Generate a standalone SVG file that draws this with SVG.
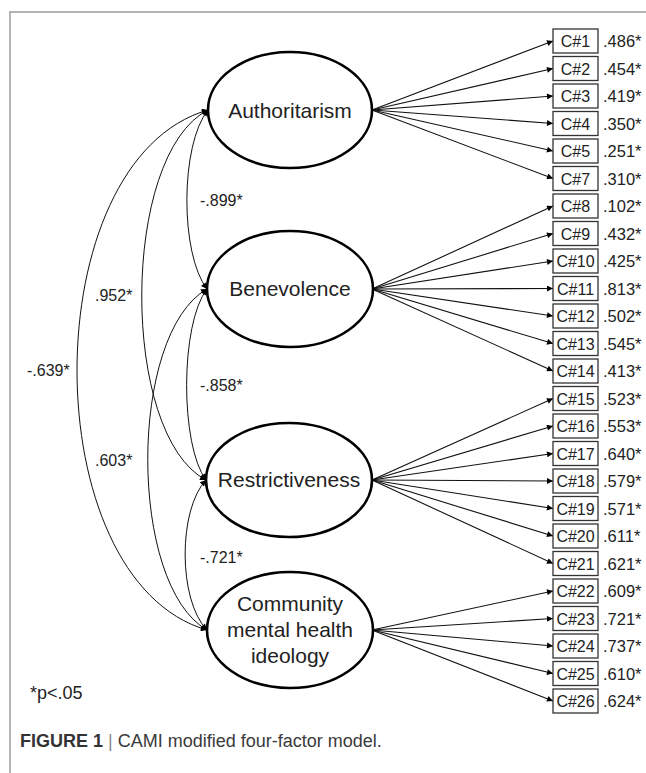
<svg xmlns="http://www.w3.org/2000/svg" width="646" height="773" viewBox="0 0 646 773">
<style>
.lat{fill:#fff;stroke:#000;stroke-width:2.6}
.lt{font-family:"Liberation Sans",Arial,sans-serif;font-size:21px;fill:#222;text-anchor:middle}
.box{fill:#fff;stroke:#333;stroke-width:1.3}
.bt{font-family:"Liberation Sans",Arial,sans-serif;font-size:16px;fill:#222;text-anchor:middle}
.vt{font-family:"Liberation Sans",Arial,sans-serif;font-size:16.5px;fill:#222}
.cv{font-family:"Liberation Sans",Arial,sans-serif;font-size:16px;fill:#222}
.ld{stroke:#111;stroke-width:1.1;fill:none;marker-end:url(#ah)}
.cov{stroke:#111;stroke-width:1;fill:none;marker-start:url(#ah);marker-end:url(#ah)}
.frame{stroke:#b4b4b4;stroke-width:2;fill:none}
</style>
<defs>
<marker id="ah" viewBox="0 0 10 10" refX="10" refY="5" markerWidth="9" markerHeight="6" markerUnits="userSpaceOnUse" orient="auto-start-reverse">
<path d="M0,0 L10,5 L0,10 z" fill="#000"/>
</marker>
</defs>
<rect width="646" height="773" fill="#fff"/>
<path class="frame" d="M646,12 H10 V773"/>

<g id="connectors">
<line class="ld" x1="372" y1="110" x2="553" y2="41"/>
<line class="ld" x1="372" y1="110" x2="553" y2="68.5"/>
<line class="ld" x1="372" y1="110" x2="553" y2="96"/>
<line class="ld" x1="372" y1="110" x2="553" y2="123.5"/>
<line class="ld" x1="372" y1="110" x2="553" y2="151"/>
<line class="ld" x1="372" y1="110" x2="553" y2="178.5"/>
<line class="ld" x1="372" y1="289" x2="553" y2="206"/>
<line class="ld" x1="372" y1="289" x2="553" y2="233.5"/>
<line class="ld" x1="372" y1="289" x2="553" y2="261"/>
<line class="ld" x1="372" y1="289" x2="553" y2="288.5"/>
<line class="ld" x1="372" y1="289" x2="553" y2="316"/>
<line class="ld" x1="372" y1="289" x2="553" y2="343.5"/>
<line class="ld" x1="372" y1="289" x2="553" y2="371"/>
<line class="ld" x1="372" y1="480" x2="553" y2="398.5"/>
<line class="ld" x1="372" y1="480" x2="553" y2="426"/>
<line class="ld" x1="372" y1="480" x2="553" y2="453.5"/>
<line class="ld" x1="372" y1="480" x2="553" y2="481"/>
<line class="ld" x1="372" y1="480" x2="553" y2="508.5"/>
<line class="ld" x1="372" y1="480" x2="553" y2="536"/>
<line class="ld" x1="372" y1="480" x2="553" y2="563.5"/>
<line class="ld" x1="372" y1="630" x2="553" y2="591"/>
<line class="ld" x1="372" y1="630" x2="553" y2="618.5"/>
<line class="ld" x1="372" y1="630" x2="553" y2="646"/>
<line class="ld" x1="372" y1="630" x2="553" y2="673.5"/>
<line class="ld" x1="372" y1="630" x2="553" y2="701"/>
<path class="cov" d="M208,110 C180,145 180,254 207,289"/>
<path class="cov" d="M207,289 C180,324 180,445 206,480"/>
<path class="cov" d="M206,480 C178,510 178,600 207,630"/>
<path class="cov" d="M208,110 C120,155 120,435 206,480"/>
<path class="cov" d="M207,289 C128,334 128,585 207,630"/>
<path class="cov" d="M208,110 C33.5,160 33.5,580 207,630"/>
<text class="cv" x="200" y="206">-.899*</text>
<text class="cv" x="200" y="391">-.858*</text>
<text class="cv" x="200" y="563">-.721*</text>
<text class="cv" x="95" y="301">.952*</text>
<text class="cv" x="95" y="466">.603*</text>
<text class="cv" x="27" y="376">-.639*</text>
</g>

<g id="authoritarism">
<ellipse class="lat" cx="290" cy="110" rx="82" ry="58"/>
<text class="lt" x="290" y="118">Authoritarism</text>
</g>
<g id="benevolence">
<ellipse class="lat" cx="290" cy="289" rx="83" ry="58"/>
<text class="lt" x="290" y="296">Benevolence</text>
</g>
<g id="restrictiveness">
<ellipse class="lat" cx="289" cy="480" rx="83" ry="57"/>
<text class="lt" x="289" y="487">Restrictiveness</text>
</g>
<g id="community">
<ellipse class="lat" cx="290" cy="630" rx="83" ry="58"/>
<text class="lt" x="290" y="611">Community</text>
<text class="lt" x="290" y="637">mental health</text>
<text class="lt" x="290" y="663">ideology</text>
</g>

<g id="c1"><rect class="box" x="553" y="29" width="45" height="24"/><text class="bt" x="575.5" y="47">C#1</text><text class="vt" x="603" y="47">.486*</text></g>
<g id="c2"><rect class="box" x="553" y="56.5" width="45" height="24"/><text class="bt" x="575.5" y="74.5">C#2</text><text class="vt" x="603" y="74.5">.454*</text></g>
<g id="c3"><rect class="box" x="553" y="84" width="45" height="24"/><text class="bt" x="575.5" y="102">C#3</text><text class="vt" x="603" y="102">.419*</text></g>
<g id="c4"><rect class="box" x="553" y="111.5" width="45" height="24"/><text class="bt" x="575.5" y="129.5">C#4</text><text class="vt" x="603" y="129.5">.350*</text></g>
<g id="c5"><rect class="box" x="553" y="139" width="45" height="24"/><text class="bt" x="575.5" y="157">C#5</text><text class="vt" x="603" y="157">.251*</text></g>
<g id="c7"><rect class="box" x="553" y="166.5" width="45" height="24"/><text class="bt" x="575.5" y="184.5">C#7</text><text class="vt" x="603" y="184.5">.310*</text></g>
<g id="c8"><rect class="box" x="553" y="194" width="45" height="24"/><text class="bt" x="575.5" y="212">C#8</text><text class="vt" x="603" y="212">.102*</text></g>
<g id="c9"><rect class="box" x="553" y="221.5" width="45" height="24"/><text class="bt" x="575.5" y="239.5">C#9</text><text class="vt" x="603" y="239.5">.432*</text></g>
<g id="c10"><rect class="box" x="553" y="249" width="45" height="24"/><text class="bt" x="575.5" y="267">C#10</text><text class="vt" x="603" y="267">.425*</text></g>
<g id="c11"><rect class="box" x="553" y="276.5" width="45" height="24"/><text class="bt" x="575.5" y="294.5">C#11</text><text class="vt" x="603" y="294.5">.813*</text></g>
<g id="c12"><rect class="box" x="553" y="304" width="45" height="24"/><text class="bt" x="575.5" y="322">C#12</text><text class="vt" x="603" y="322">.502*</text></g>
<g id="c13"><rect class="box" x="553" y="331.5" width="45" height="24"/><text class="bt" x="575.5" y="349.5">C#13</text><text class="vt" x="603" y="349.5">.545*</text></g>
<g id="c14"><rect class="box" x="553" y="359" width="45" height="24"/><text class="bt" x="575.5" y="377">C#14</text><text class="vt" x="603" y="377">.413*</text></g>
<g id="c15"><rect class="box" x="553" y="386.5" width="45" height="24"/><text class="bt" x="575.5" y="404.5">C#15</text><text class="vt" x="603" y="404.5">.523*</text></g>
<g id="c16"><rect class="box" x="553" y="414" width="45" height="24"/><text class="bt" x="575.5" y="432">C#16</text><text class="vt" x="603" y="432">.553*</text></g>
<g id="c17"><rect class="box" x="553" y="441.5" width="45" height="24"/><text class="bt" x="575.5" y="459.5">C#17</text><text class="vt" x="603" y="459.5">.640*</text></g>
<g id="c18"><rect class="box" x="553" y="469" width="45" height="24"/><text class="bt" x="575.5" y="487">C#18</text><text class="vt" x="603" y="487">.579*</text></g>
<g id="c19"><rect class="box" x="553" y="496.5" width="45" height="24"/><text class="bt" x="575.5" y="514.5">C#19</text><text class="vt" x="603" y="514.5">.571*</text></g>
<g id="c20"><rect class="box" x="553" y="524" width="45" height="24"/><text class="bt" x="575.5" y="542">C#20</text><text class="vt" x="603" y="542">.611*</text></g>
<g id="c21"><rect class="box" x="553" y="551.5" width="45" height="24"/><text class="bt" x="575.5" y="569.5">C#21</text><text class="vt" x="603" y="569.5">.621*</text></g>
<g id="c22"><rect class="box" x="553" y="579" width="45" height="24"/><text class="bt" x="575.5" y="597">C#22</text><text class="vt" x="603" y="597">.609*</text></g>
<g id="c23"><rect class="box" x="553" y="606.5" width="45" height="24"/><text class="bt" x="575.5" y="624.5">C#23</text><text class="vt" x="603" y="624.5">.721*</text></g>
<g id="c24"><rect class="box" x="553" y="634" width="45" height="24"/><text class="bt" x="575.5" y="652">C#24</text><text class="vt" x="603" y="652">.737*</text></g>
<g id="c25"><rect class="box" x="553" y="661.5" width="45" height="24"/><text class="bt" x="575.5" y="679.5">C#25</text><text class="vt" x="603" y="679.5">.610*</text></g>
<g id="c26"><rect class="box" x="553" y="689" width="45" height="24"/><text class="bt" x="575.5" y="707">C#26</text><text class="vt" x="603" y="707">.624*</text></g>

<text x="30" y="699" font-family="'Liberation Sans',Arial,sans-serif" font-size="18" fill="#222">*p&lt;.05</text>
<text x="20" y="747" font-family="'Liberation Sans',Arial,sans-serif" font-size="18" fill="#3a3a3a"><tspan font-weight="bold" fill="#333">FIGURE 1</tspan><tspan fill="#888"> | </tspan>CAMI modified four-factor model.</text>
</svg>
